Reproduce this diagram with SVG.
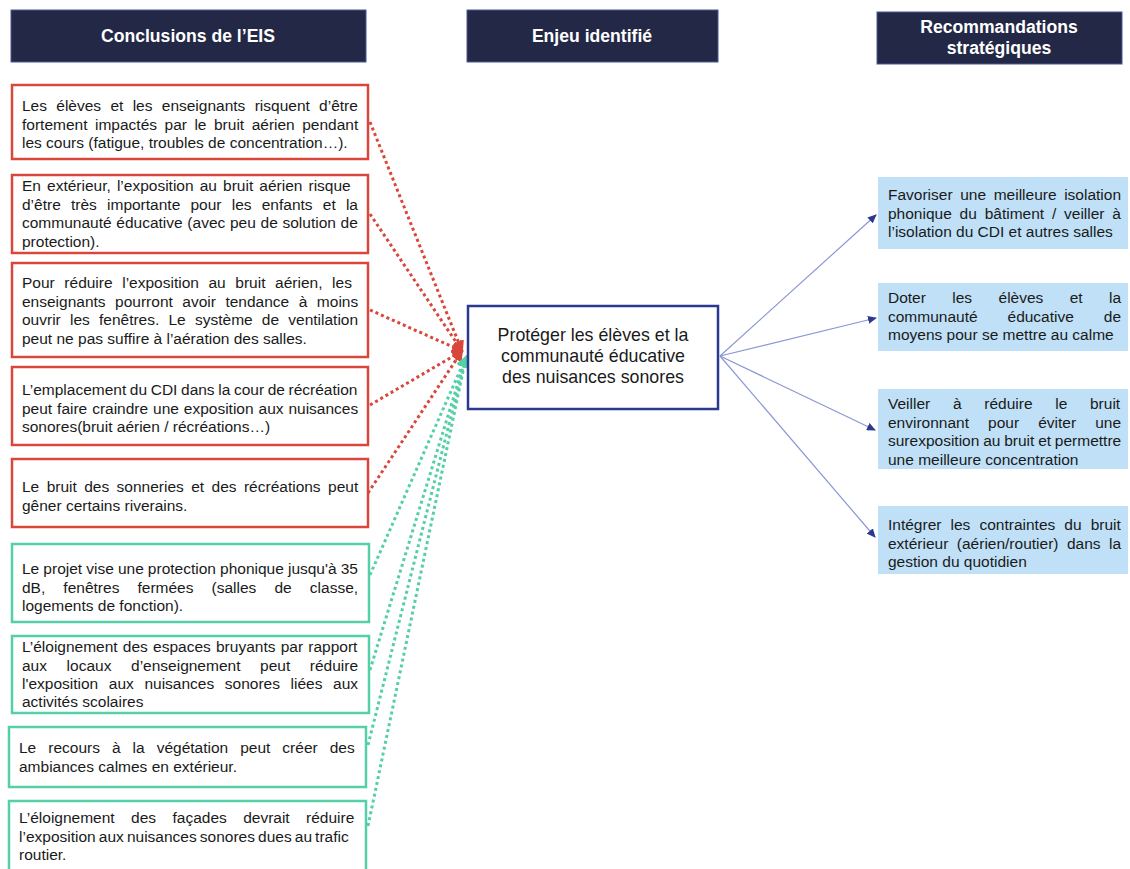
<svg xmlns="http://www.w3.org/2000/svg" width="1130" height="869" viewBox="0 0 1130 869">
<style>
text{font-family:"Liberation Sans",Arial,sans-serif;fill:#1a1a1a}
.hd{fill:#232846;stroke:#4a5896;stroke-width:1}
.ht{font-size:17.6px;font-weight:bold;fill:#fff;text-anchor:middle}
.red{fill:#fff;stroke:#d9473c;stroke-width:2.5}
.grn{fill:#fff;stroke:#55cfa8;stroke-width:2.5}
.t{font-size:15.5px}
.rb{fill:#bfe0f7}
.ctr{font-size:17.8px;text-anchor:middle}
.rl{stroke:#d9473c;stroke-width:3;stroke-dasharray:3 3;fill:none}
.gl{stroke:#55cfa8;stroke-width:3;stroke-dasharray:3 3;fill:none}
.bl{stroke:#8a97d4;stroke-width:1.2;fill:none}
</style>
<defs>
<marker id="mr" markerUnits="userSpaceOnUse" markerWidth="12" markerHeight="12" refX="10" refY="6" orient="auto"><path d="M0,0 L12,6 L0,12 z" fill="#d9473c"/></marker>
<marker id="mg" markerUnits="userSpaceOnUse" markerWidth="12" markerHeight="12" refX="10" refY="6" orient="auto"><path d="M0,0 L12,6 L0,12 z" fill="#55cfa8"/></marker>
<marker id="mb" markerUnits="userSpaceOnUse" markerWidth="9" markerHeight="8" refX="8" refY="4" orient="auto"><path d="M0,0 L9,4 L0,8 z" fill="#2b3990"/></marker>
</defs>

<g id="headers">
<g id="h1"><rect class="hd" x="11" y="10" width="355" height="52"/><text class="ht" x="188" y="42">Conclusions de l’EIS</text></g>
<g id="h2"><rect class="hd" x="467" y="10" width="251" height="52"/><text class="ht" x="592" y="42">Enjeu identifié</text></g>
<g id="h3"><rect class="hd" x="877" y="12" width="245" height="52"/><text class="ht" x="999" y="33">Recommandations</text><text class="ht" x="999" y="54">stratégiques</text></g>
</g>

<g id="connectors">
<path class="rl" d="M370,122 L462,351" marker-end="url(#mr)"/>
<path class="rl" d="M370,214 L462,351" marker-end="url(#mr)"/>
<path class="rl" d="M370,310 L462,351" marker-end="url(#mr)"/>
<path class="rl" d="M370,405 L462,351" marker-end="url(#mr)"/>
<path class="rl" d="M368,493 L462,351" marker-end="url(#mr)"/>
<path class="gl" d="M370,575 L466,357" marker-end="url(#mg)"/>
<path class="gl" d="M370,670 L466,357" marker-end="url(#mg)"/>
<path class="gl" d="M368,745 L466,357" marker-end="url(#mg)"/>
<path class="gl" d="M368,826 L466,357" marker-end="url(#mg)"/>
<path class="bl" d="M720,356 L876,215" marker-end="url(#mb)"/>
<path class="bl" d="M720,356 L876,318" marker-end="url(#mb)"/>
<path class="bl" d="M720,356 L875,430" marker-end="url(#mb)"/>
<path class="bl" d="M720,356 L875,537" marker-end="url(#mb)"/>
</g>

<g id="c1"><rect class="red" x="12" y="85" width="356" height="74"/>
<text class="t" x="22" y="111" word-spacing="5">Les élèves et les enseignants risquent d’être</text>
<text class="t" x="22" y="129.5" word-spacing="3.2">fortement impactés par le bruit aérien pendant</text>
<text class="t" x="22" y="148">les cours (fatigue, troubles de concentration…).</text></g>

<g id="c2"><rect class="red" x="12" y="175" width="356" height="78"/>
<text class="t" x="22" y="191" word-spacing="1.8">En extérieur, l’exposition au bruit aérien risque</text>
<text class="t" x="22" y="209.5" word-spacing="5.9">d’être très importante pour les enfants et la</text>
<text class="t" x="22" y="228" word-spacing="0.4">communauté éducative (avec peu de solution de</text>
<text class="t" x="22" y="246.5">protection).</text></g>

<g id="c3"><rect class="red" x="12" y="263" width="356" height="94"/>
<text class="t" x="22" y="288" word-spacing="5.3">Pour réduire l’exposition au bruit aérien, les</text>
<text class="t" x="22" y="306.5" word-spacing="5.2">enseignants pourront avoir tendance à moins</text>
<text class="t" x="22" y="325" word-spacing="4.9">ouvrir les fenêtres. Le système de ventilation</text>
<text class="t" x="22" y="343.5">peut ne pas suffire à l’aération des salles.</text></g>

<g id="c4"><rect class="red" x="12" y="367" width="356" height="78"/>
<text class="t" x="22" y="395" word-spacing="-0.7">L’emplacement du CDI dans la cour de récréation</text>
<text class="t" x="22" y="413.5" word-spacing="0.6">peut faire craindre une exposition aux nuisances</text>
<text class="t" x="22" y="432">sonores(bruit aérien / récréations…)</text></g>

<g id="c5"><rect class="red" x="12" y="459" width="356" height="68"/>
<text class="t" x="22" y="492" word-spacing="3.1">Le bruit des sonneries et des récréations peut</text>
<text class="t" x="22" y="510.5">gêner certains riverains.</text></g>

<g id="c6"><rect class="grn" x="12" y="544" width="357" height="78"/>
<text class="t" x="22" y="574" word-spacing="-0.2">Le projet vise une protection phonique jusqu'à 35</text>
<text class="t" x="22" y="592.5" word-spacing="13.8">dB, fenêtres fermées (salles de classe,</text>
<text class="t" x="22" y="611">logements de fonction).</text></g>

<g id="c7"><rect class="grn" x="12" y="636" width="357" height="77"/>
<text class="t" x="22" y="652" word-spacing="0.9">L’éloignement des espaces bruyants par rapport</text>
<text class="t" x="22" y="670.5" word-spacing="15.3">aux locaux d’enseignement peut réduire</text>
<text class="t" x="22" y="689" word-spacing="6.3">l'exposition aux nuisances sonores liées aux</text>
<text class="t" x="22" y="707">activités scolaires</text></g>

<g id="c8"><rect class="grn" x="9" y="727" width="357" height="60"/>
<text class="t" x="19" y="753" word-spacing="7.7">Le recours à la végétation peut créer des</text>
<text class="t" x="19" y="771.5">ambiances calmes en extérieur.</text></g>

<g id="c9"><rect class="grn" x="9" y="801" width="357" height="80"/>
<text class="t" x="19" y="823" word-spacing="12.1">L’éloignement des façades devrait réduire</text>
<text class="t" x="19" y="841.5" word-spacing="-1.2">l’exposition aux nuisances sonores dues au trafic</text>
<text class="t" x="19" y="860">routier.</text></g>

<g id="enjeu"><rect x="468" y="306" width="250" height="103" fill="#fff" stroke="#2b3990" stroke-width="2.5"/>
<text class="ctr" x="593" y="341">Protéger les élèves et la</text>
<text class="ctr" x="593" y="362">communauté éducative</text>
<text class="ctr" x="593" y="383">des nuisances sonores</text></g>

<g id="r1"><rect class="rb" x="878" y="177" width="250" height="72"/>
<text class="t" x="888" y="200" word-spacing="3.3">Favoriser une meilleure isolation</text>
<text class="t" x="888" y="218.5" word-spacing="3.5">phonique du bâtiment / veiller à</text>
<text class="t" x="888" y="237">l’isolation du CDI et autres salles</text></g>

<g id="r2"><rect class="rb" x="878" y="283" width="250" height="68"/>
<text class="t" x="888" y="303" word-spacing="22.1">Doter les élèves et la</text>
<text class="t" x="888" y="321.5" word-spacing="25.6">communauté éducative de</text>
<text class="t" x="888" y="340">moyens pour se mettre au calme</text></g>

<g id="r3"><rect class="rb" x="878" y="389" width="250" height="80"/>
<text class="t" x="888" y="409" word-spacing="18.4">Veiller à réduire le bruit</text>
<text class="t" x="888" y="427.5" word-spacing="14.8">environnant pour éviter une</text>
<text class="t" x="888" y="446" word-spacing="-0.5">surexposition au bruit et permettre</text>
<text class="t" x="888" y="464.5">une meilleure concentration</text></g>

<g id="r4"><rect class="rb" x="878" y="506" width="250" height="68"/>
<text class="t" x="888" y="530" word-spacing="4.8">Intégrer les contraintes du bruit</text>
<text class="t" x="888" y="548.5" word-spacing="4.2">extérieur (aérien/routier) dans la</text>
<text class="t" x="888" y="567">gestion du quotidien</text></g>
</svg>
